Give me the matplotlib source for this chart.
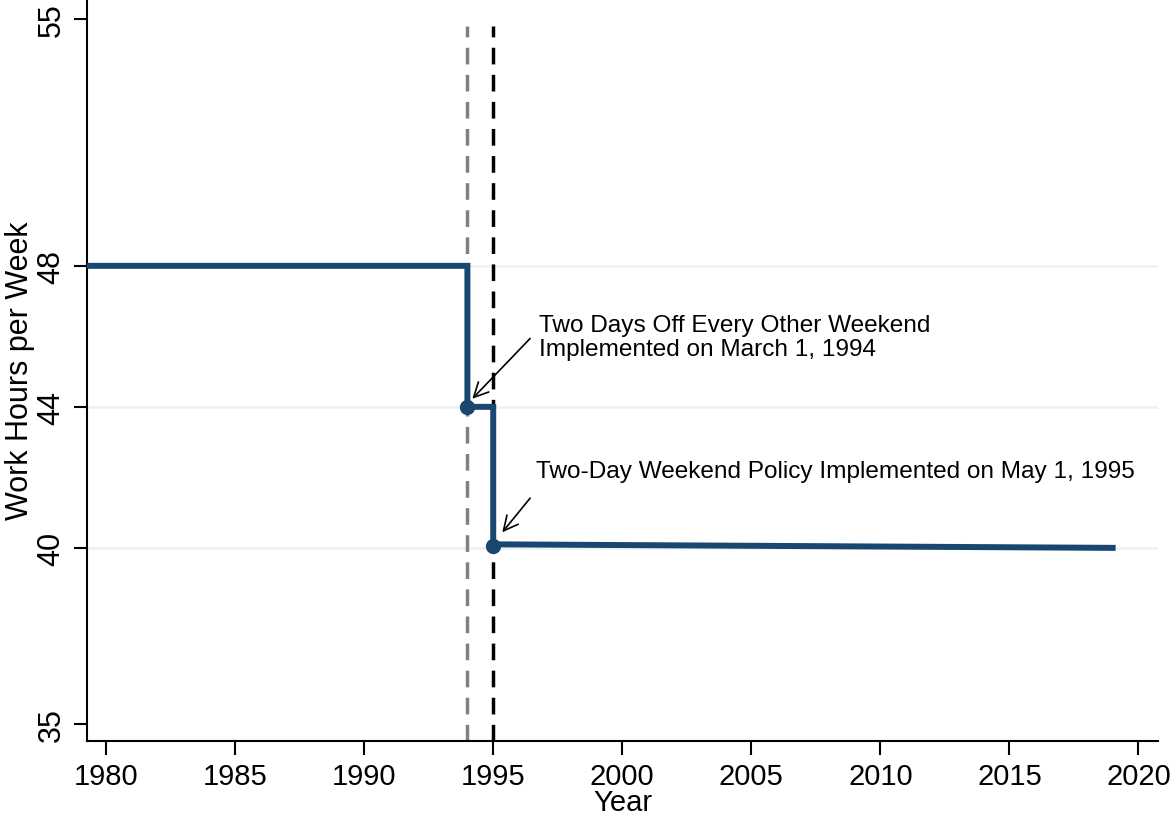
import matplotlib
matplotlib.use("Agg")
import matplotlib.pyplot as plt

# dane
years = [1979.35, 1994.0, 1994.0, 1995.0, 1995.0, 2019.0]
hours = [48.0, 48.0, 44.0, 44.0, 40.1, 40.0]
dot_years = [1994.0, 1995.0]
dot_hours = [44.0, 40.05]
policy_years = [1994, 1995]
policy_colors = ["#808080", "black"]
grid_levels = [40, 44, 48]
yticks = [35, 40, 44, 48, 55]
xticks = [1980, 1985, 1990, 1995, 2000, 2005, 2010, 2015, 2020]
note1 = "Two Days Off Every Other Weekend\nImplemented on March 1, 1994"
note2 = "Two-Day Weekend Policy Implemented on May 1, 1995"

plt.rcParams["font.family"] = ["Liberation Sans", "DejaVu Sans"]

fig = plt.figure(figsize=(11.75, 8.2), dpi=100)
ax = fig.add_axes([0.0738, 0.0951, 0.9118, 0.9049])

for g in grid_levels:
    ax.axhline(g, color="#eaf2f3", lw=1.8, zorder=1)

ax.vlines(policy_years, 34.52, 54.8, colors=policy_colors, lw=2.5,
          linestyles=[(0, (4.8, 3.0))], zorder=2)

ax.plot(years, hours, color="#1a476f", lw=4.3, zorder=3, solid_joinstyle="miter")
ax.plot(dot_years, dot_hours, "o", color="#1a476f", ms=10, zorder=4)

# strzalki i opisy
arrow = dict(arrowstyle="->", color="black", lw=1.2, mutation_scale=26,
             shrinkA=0, shrinkB=0)
ax.annotate("", xy=(1994.19, 44.23), xytext=(1996.43, 45.94), arrowprops=arrow)
ax.annotate("", xy=(1995.35, 40.44), xytext=(1996.43, 41.41), arrowprops=arrow)
ax.text(1996.78, 46.62, note1, fontsize=17.6, va="top", ha="left", linespacing=1.1)
ax.text(1996.67, 42.5, note2, fontsize=17.6, va="top", ha="left")

ax.set_xlim(1979.25, 2020.76)
ax.set_ylim(34.52, 55.57)
ax.set_xticks(xticks)
ax.set_yticks(yticks)
ax.tick_params(axis="x", labelsize=21, length=10, width=1.5, pad=5)
ax.tick_params(axis="y", labelsize=22, length=9.5, width=1.5, pad=5)
for lab in ax.get_yticklabels():
    lab.set_rotation(90)
    lab.set_va("center")
ax.set_xlabel("Year", fontsize=21, labelpad=-1)
ax.set_ylabel("Work Hours per Week", fontsize=22, labelpad=1)

ax.spines["top"].set_visible(False)
ax.spines["right"].set_visible(False)
ax.spines["left"].set_linewidth(1.5)
ax.spines["bottom"].set_linewidth(1.5)

plt.savefig("out.png", dpi=100)
